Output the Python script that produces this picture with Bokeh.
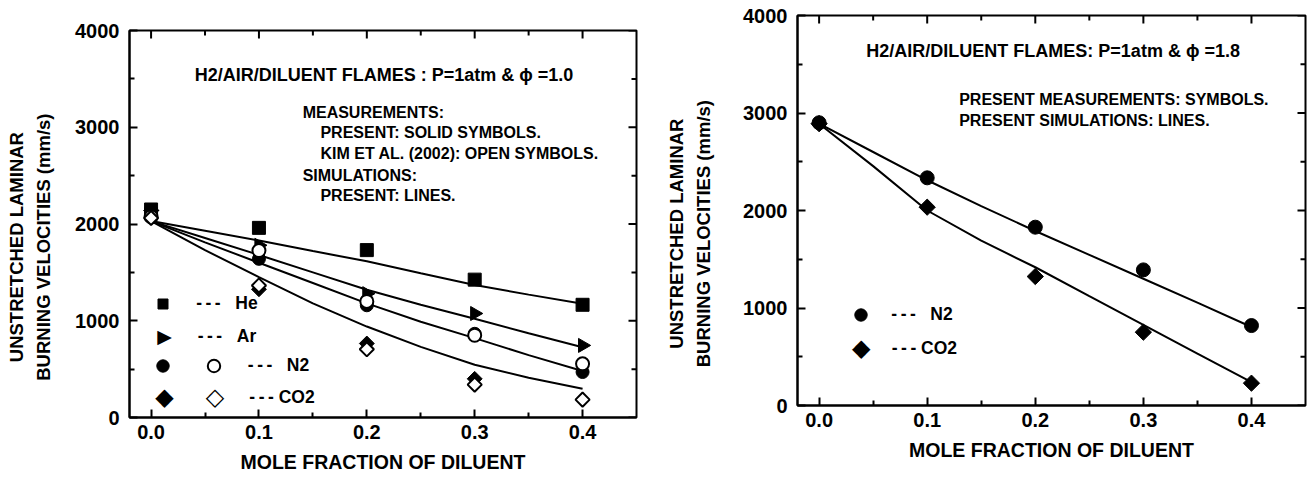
import numpy as np
from bokeh.plotting import figure
from bokeh.models import (Range1d, FixedTicker, PrintfTickFormatter,
                          Label, Legend, LegendItem)
from bokeh.core.properties import value
from bokeh.layouts import row
from bokeh.embed import file_html
from bokeh.resources import INLINE

# ---------------- data ----------------
x_ticks = [0.0, 0.1, 0.2, 0.3, 0.4]
x_minor = [0.05, 0.15, 0.25, 0.35]
y_ticks = [0, 1000, 2000, 3000, 4000]
y_minor = [500, 1500, 2500, 3500]

x_meas = [0.0, 0.1, 0.2, 0.3, 0.4]
x_sim = [0.0, 0.05, 0.1, 0.15, 0.2, 0.25, 0.3, 0.35, 0.4]

# phi = 1.0 (left)
he_present = [2150, 1960, 1730, 1425, 1165]
ar_present = [2140, 1780, 1280, 1075, 745]
n2_present = [2145, 1640, 1160, 865, 470]
x_co2_present = [0.0, 0.1, 0.2, 0.3]
co2_present = [2140, 1325, 765, 400]
n2_kim = [2075, 1725, 1200, 850, 555]
co2_kim = [2062, 1365, 705, 340, 185]

he_sim = [2030, 1930, 1830, 1720, 1615, 1490, 1370, 1270, 1175]
ar_sim = [2030, 1855, 1680, 1500, 1320, 1165, 1020, 870, 727]
n2_sim = [2030, 1810, 1600, 1390, 1180, 990, 820, 645, 480]
co2_sim = [2030, 1730, 1450, 1180, 940, 730, 545, 410, 297]

# phi = 1.8 (right)
n2_meas_18 = [2900, 2335, 1829, 1391, 820]
co2_meas_18 = [2890, 2034, 1323, 752, 229]
n2_sim_18 = [2890, 2600, 2310, 2045, 1790, 1545, 1300, 1055, 805]
co2_sim_18 = [2890, 2455, 2000, 1690, 1418, 1121, 828, 533, 239]

FONT = "Liberation Sans"
SYM_FONT = "DejaVu Sans"
DIAG = np.pi / 4
X0, X1 = -0.02, 0.45
Y0, Y1 = 0, 4000
NBSP = "\u00a0"
DASH = "-\u2009-\u2009-"


def style_axis(ax, ticks, minor, standoff):
    ax.ticker = FixedTicker(ticks=ticks, minor_ticks=minor)
    ax.axis_line_color = "black"
    ax.axis_line_width = 2
    ax.major_tick_in = 8
    ax.major_tick_out = 0
    ax.minor_tick_in = 5
    ax.minor_tick_out = 0
    ax.major_tick_line_width = 2
    ax.minor_tick_line_width = 2
    ax.major_tick_line_color = "black"
    ax.minor_tick_line_color = "black"
    ax.major_label_text_font = FONT
    ax.major_label_text_font_style = "bold"
    ax.major_label_text_font_size = "20px"
    ax.major_label_text_color = "black"
    ax.major_label_standoff = standoff
    ax.axis_label_text_font = FONT
    ax.axis_label_text_font_style = "bold"
    ax.axis_label_text_color = "black"


def make_fig(fw, fh, bl, br, bt, bb, ylabel_standoff):
    p = figure(frame_width=fw, frame_height=fh,
               x_range=Range1d(X0, X1), y_range=Range1d(Y0, Y1),
               output_backend="svg", toolbar_location=None,
               min_border_left=bl, min_border_right=br,
               min_border_top=bt, min_border_bottom=bb)
    p.grid.visible = False
    p.outline_line_color = "black"
    p.outline_line_width = 2
    p.background_fill_color = "white"
    p.border_fill_color = "white"
    xa = p.xaxis[0]
    ya = p.yaxis[0]
    style_axis(xa, x_ticks, x_minor, 7)
    xa.formatter = PrintfTickFormatter(format="%.1f")
    xa.axis_label = "MOLE FRACTION OF DILUENT"
    xa.axis_label_text_font_size = "19.5px"
    xa.axis_label_standoff = 9
    style_axis(ya, y_ticks, y_minor, 10)
    pad = NBSP * 9
    ya.axis_label = "UNSTRETCHED LAMINAR" + pad + "\nBURNING VELOCITIES (mm/s)" + pad
    ya.axis_label_text_font_size = "18.5px"
    ya.axis_label_text_line_height = 1.3
    ya.axis_label_standoff = ylabel_standoff

    # mirrored inward ticks on the top and right frame edges
    dx = (X1 - X0) / fw
    dy = (Y1 - Y0) / fh
    xt, xm = np.array(x_ticks), np.array(x_minor)
    yt, ym = np.array(y_ticks), np.array(y_minor)
    kw = dict(line_color="black", line_width=2, line_cap="butt")
    p.segment(xt, np.full(len(xt), Y1), xt, np.full(len(xt), Y1 - 8 * dy), **kw)
    p.segment(xm, np.full(len(xm), Y1), xm, np.full(len(xm), Y1 - 5 * dy), **kw)
    p.segment(np.full(len(yt), X1), yt, np.full(len(yt), X1 - 8 * dx), yt, **kw)
    p.segment(np.full(len(ym), X1), ym, np.full(len(ym), X1 - 5 * dx), ym, **kw)
    return p


def add_text(p, x, y, text, size, align="left", font=FONT, style="bold"):
    p.add_layout(Label(x=x, y=y, text=text, text_font=font, text_font_style=style,
                       text_font_size=size, text_color="black", text_align=align,
                       text_baseline="middle"))


def add_leg(p, r, label, cx, cy, size, to_text):
    g = int(round(size / 0.4))
    leg = Legend(items=[LegendItem(label=value(label), renderers=[r])],
                 location=(cx - g / 2, cy - g / 2),
                 glyph_width=g, glyph_height=g, label_height=g,
                 label_standoff=int(round(to_text - g / 2)),
                 padding=0, margin=0, spacing=0,
                 border_line_alpha=0, background_fill_alpha=0,
                 label_text_font=FONT, label_text_font_style="bold",
                 label_text_font_size="17.5px", label_text_color="black")
    p.add_layout(leg)


# ---------------- left figure ----------------
p1 = make_fig(507, 387, 129, 26, 15, 56, 18)
p1.margin = (15, 0, 0, 0)
for ys in (he_sim, ar_sim, n2_sim, co2_sim):
    p1.line(x_sim, ys, line_color="black", line_width=2)

r_he = p1.scatter(x_meas, he_present, marker="square", size=13,
                  fill_color="black", line_color="black")
r_ar = p1.scatter(x_meas, ar_present, marker="triangle", size=14, angle=-np.pi / 2,
                  fill_color="black", line_color="black")
r_n2 = p1.scatter(x_meas, n2_present, marker="circle", size=13,
                  fill_color="black", line_color="black")
r_co2 = p1.scatter(x_co2_present, co2_present, marker="square", size=10.5, angle=DIAG,
                   fill_color="black", line_color="black")
r_n2k = p1.scatter(x_meas, n2_kim, marker="circle", size=13,
                   fill_color="white", line_color="black", line_width=2)
r_co2k = p1.scatter(x_meas, co2_kim, marker="square", size=10, angle=DIAG,
                    fill_color="white", line_color="black", line_width=2)

add_text(p1, 0.0405, 3535, "H2/AIR/DILUENT FLAMES : P=1atm & \u03d5 =1.0", "18px")
add_text(p1, 0.1405, 3156, "MEASUREMENTS:", "16px")
add_text(p1, 0.157, 2941, "PRESENT: SOLID SYMBOLS.", "16px")
add_text(p1, 0.157, 2724, "KIM ET AL. (2002): OPEN SYMBOLS.", "16px")
add_text(p1, 0.1405, 2506, "SIMULATIONS:", "16px")
add_text(p1, 0.157, 2295, "PRESENT: LINES.", "16px")

# legend (left)
add_leg(p1, r_he, DASH + NBSP * 3 + "He", 33.7, 113.7, 10, 33.3)
add_leg(p1, r_n2, NBSP, 33.7, 51.3, 12.5, 33.3)
add_leg(p1, r_n2k, DASH + NBSP * 3 + "N2", 84.3, 51.3, 12.5, 34.4)
add_text(p1, 0.0124, 847, "\u25b6", "19px", "center", SYM_FONT, "normal")
add_text(p1, 0.0432, 847, DASH + NBSP * 3 + "Ar", "17.5px")
add_text(p1, 0.0124, 210, "\u25c6", "24px", "center", SYM_FONT, "normal")
add_text(p1, 0.0593, 210, "\u25c7", "24px", "center", SYM_FONT, "bold")
add_text(p1, 0.0911, 210, DASH + NBSP + "CO2", "17.5px")

# ---------------- right figure ----------------
p2 = make_fig(508, 390, 133, 3, 15, 60, 26)
for ys in (n2_sim_18, co2_sim_18):
    p2.line(x_sim, ys, line_color="black", line_width=2)
r2_n2 = p2.scatter(x_meas, n2_meas_18, marker="circle", size=14,
                   fill_color="black", line_color="black")
r2_co2 = p2.scatter(x_meas, co2_meas_18, marker="square", size=11.5, angle=DIAG,
                    fill_color="black", line_color="black")

add_text(p2, 0.0437, 3631, "H2/AIR/DILUENT FLAMES: P=1atm & \u03d5 =1.8", "18px")
add_text(p2, 0.1296, 3142, "PRESENT MEASUREMENTS: SYMBOLS.", "16px")
add_text(p2, 0.1296, 2921, "PRESENT SIMULATIONS: LINES.", "16px")

add_leg(p2, r2_n2, DASH + NBSP * 3 + "N2", 63.8, 90.4, 12.6, 30.7)
add_text(p2, 0.0389, 588, "\u25c6", "24px", "center", SYM_FONT, "normal")
add_text(p2, 0.0672, 588, DASH + NBSP + "CO2", "17.5px")

layout = row(p1, p2)
open("out.html", "w").write(file_html(layout, INLINE))
